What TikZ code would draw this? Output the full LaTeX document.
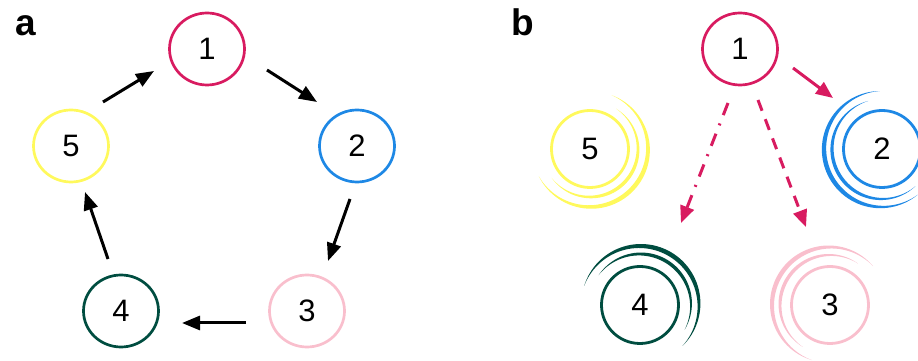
\documentclass[tikz,border=0pt]{standalone}
\usepackage{fontspec}
\setmainfont{Liberation Sans}
\usetikzlibrary{arrows.meta,shapes.geometric,calc}
\definecolor{cCrim}{HTML}{D81B60}
\definecolor{cBlue}{HTML}{1E88E5}
\definecolor{cPink}{HTML}{F9BFCD}
\definecolor{cYel}{HTML}{FFF95C}
\definecolor{cGrn}{HTML}{004D40}
\newcommand{\brusharc}[6]{%
  \begin{scope}[shift={(#2)}]
  \fill[#1] plot[domain=#4:#5,samples=60,smooth] (\x:{#3+#6/2*sin(180/((#5)-(#4))*(\x-(#4)))})
     -- plot[domain=#5:#4,samples=60,smooth] (\x:{#3-#6/2*sin(180/((#5)-(#4))*(\x-(#4)))}) -- cycle;
  \end{scope}}
\begin{document}
\begin{tikzpicture}[x=1pt,y=1pt,
  ell/.style={ellipse, draw=#1, line width=2.7pt, minimum width=75pt, minimum height=72pt, inner sep=0pt, font=\fontsize{31}{36}\selectfont},
  circ/.style={circle, draw=#1, line width=2.8pt, minimum size=77pt, inner sep=0pt, font=\fontsize{31}{36}\selectfont},
  arr/.style={line width=3pt, -{Triangle[length=18pt,width=14pt]}},
  parr/.style={line width=3pt, draw=cCrim, -{Triangle[length=17pt,width=14pt]}},
  panel/.style={font=\fontsize{37}{40}\selectfont\bfseries, inner sep=0pt, anchor=base west}]
\useasboundingbox (0,0) rectangle (918,361);
\clip (0,0) rectangle (918,361);
% panel labels
\node[panel] (la) at (15,325) {a};
\node[panel] (lb) at (511,325) {b};
% panel a
\node[ell=cCrim] (a1) at (207,312) {1};
\node[ell=cBlue] (a2) at (357,215) {2};
\node[ell=cPink] (a3) at (307,50) {3};
\node[ell=cGrn] (a4) at (121,50) {4};
\node[ell=cYel] (a5) at (71,215) {5};
\draw[arr] ($(a5)+(32,44)$) -- ($(a1)+(-53,-22)$);
\draw[arr] ($(a1)+(60,-21)$) -- ($(a2)+(-40,44)$);
\draw[arr] ($(a2)+(-7,-53)$) -- ($(a3)+(21,50)$);
\draw[arr] ($(a3)+(-61,-12)$) -- ($(a4)+(61,-12)$);
\draw[arr] ($(a4)+(-13,52)$) -- ($(a5)+(14,-46)$);
% panel b
\node[ell=cCrim] (b1) at (740,312) {1};
\node[circ=cBlue] (b2) at (882,212) {2};
\node[circ=cPink] (b3) at (830,56) {3};
\node[circ=cGrn] (b4) at (640,56) {4};
\node[circ=cYel] (b5) at (590,212) {5};
\brusharc{cYel}{b5}{58}{-152}{68}{4.5}
\brusharc{cYel}{b5}{48}{-143}{57}{3.5}
\brusharc{cBlue}{b2}{58}{92}{308}{4.5}
\brusharc{cBlue}{b2}{50}{106}{312}{3.5}
\brusharc{cGrn}{b4}{59}{-44}{161}{4.5}
\brusharc{cGrn}{b4}{51}{-29}{144}{3.5}
\brusharc{cPink}{b3}{58}{42}{252}{4.5}
\brusharc{cPink}{b3}{50}{56}{237}{3.5}
\draw[parr] ($(b1)+(53,-19)$) -- ($(b2)+(-49,51)$);
\draw[parr, dash pattern=on 13pt off 9pt on 2pt off 9pt] ($(b1)+(-12,-54)$) -- ($(b4)+(41,82)$);
\draw[parr, dash pattern=on 11.5pt off 9pt] ($(b1)+(18,-51)$) -- ($(b3)+(-24,78)$);
\end{tikzpicture}
\end{document}
